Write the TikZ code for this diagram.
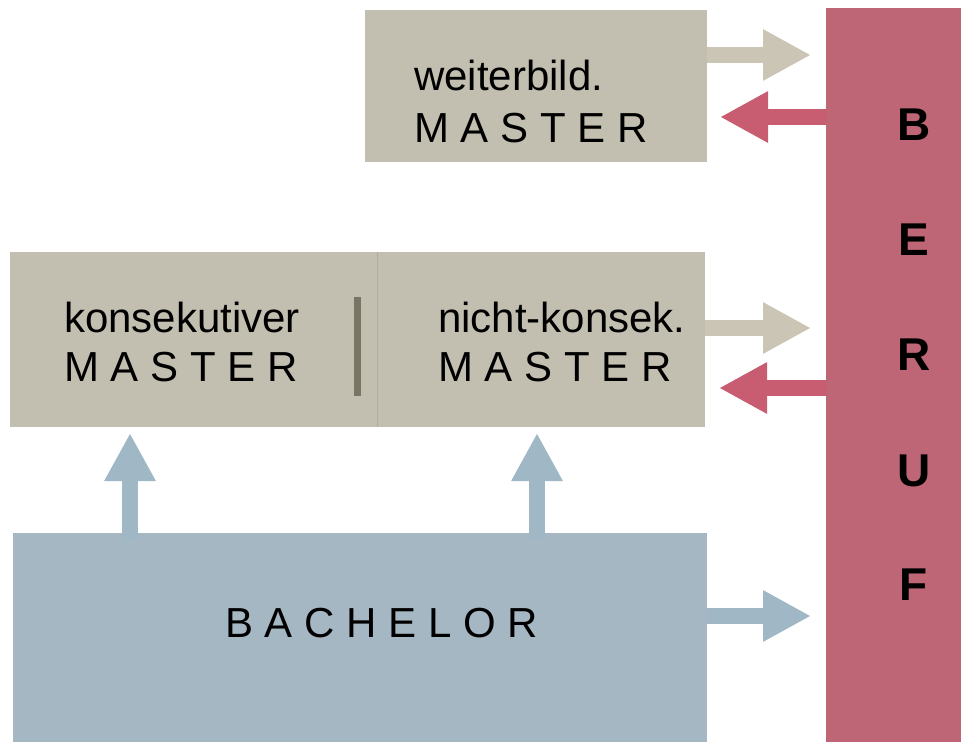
\documentclass[tikz,border=0pt]{standalone}
\usepackage{fontspec}
\setmainfont{Liberation Sans}
\usetikzlibrary{arrows.meta}

\definecolor{beigebox}{RGB}{194,190,176}
\definecolor{beigearr}{RGB}{203,197,181}
\definecolor{redbox}{RGB}{190,102,117}
\definecolor{redarr}{RGB}{200,92,112}
\definecolor{bluebox}{RGB}{165,183,195}
\definecolor{bluearr}{RGB}{160,183,198}
\definecolor{darkbar}{RGB}{121,117,101}
\definecolor{divline}{RGB}{176,172,158}

\begin{document}
\begin{tikzpicture}[x=1pt,y=-1pt,
 every node/.style={inner sep=0pt,outer sep=0pt},
 box/.style={rectangle,anchor=north west},
 lbl/.style={anchor=base west,font=\fontsize{42}{50}\selectfont},
 berufl/.style={anchor=base,font=\fontsize{46}{50}\selectfont\bfseries},
 blockarr/.style={line width=16pt,-{Triangle[width=48pt,length=48pt]}},
]
    \useasboundingbox (0,0) rectangle (961,742);

    % boxes
    \node[box,fill=beigebox,minimum width=342pt,minimum height=152pt] (wb) at (365,10) {};
    \node[box,fill=beigebox,minimum width=695pt,minimum height=175pt] (mid) at (10,252) {};
    \node[box,fill=bluebox,minimum width=694pt,minimum height=209pt] (bach) at (13,533) {};
    \node[box,fill=redbox,minimum width=135pt,minimum height=734pt] (beruf) at (826,8) {};

    \draw[divline,line width=1pt] (mid.north -| 377,0) -- (mid.south -| 377,0);
    \node[box,fill=darkbar,minimum width=7pt,minimum height=99pt] (bar) at (354,297) {};

    % texts
    \node[lbl] (wbt) at (414,90) {weiterbild.};
    \node[lbl] (wbm) at (414,142) {M A S T E R};
    \node[lbl] (kot) at (64,332) {konsekutiver};
    \node[lbl] (kom) at (64,381) {M A S T E R};
    \node[lbl] (nkt) at (438,332) {nicht-konsek.};
    \node[lbl] (nkm) at (438,381) {M A S T E R};
    \node[lbl] (bat) at (225,637) {B A C H E L O R};

    \node[berufl] (b1) at (914,140) {B};
    \node[berufl] (b2) at (914,255) {E};
    \node[berufl] (b3) at (914,370) {R};
    \node[berufl] (b4) at (914,486) {U};
    \node[berufl] (b5) at (914,600) {F};

    % arrows
    \draw[blockarr,beigearr,shorten >=15pt] (wb.east |- 0,55) -- (beruf.west |- 0,55);
    \draw[blockarr,redarr,shorten >=13pt] (beruf.west |- 0,117) -- (wb.east |- 0,117);
    \draw[blockarr,beigearr,shorten >=15pt] (mid.east |- 0,328) -- (beruf.west |- 0,328);
    \draw[blockarr,redarr,shorten >=14pt] (beruf.west |- 0,388) -- (mid.east |- 0,388);
    \draw[blockarr,bluearr,shorten >=15pt] (bach.east |- 0,616) -- (beruf.west |- 0,616);
    \draw[blockarr,bluearr,shorten <=-7pt,shorten >=6pt] (bach.north -| 130,0) -- (mid.south -| 130,0);
    \draw[blockarr,bluearr,shorten <=-7pt,shorten >=6pt] (bach.north -| 537,0) -- (mid.south -| 537,0);
\end{tikzpicture}
\end{document}
